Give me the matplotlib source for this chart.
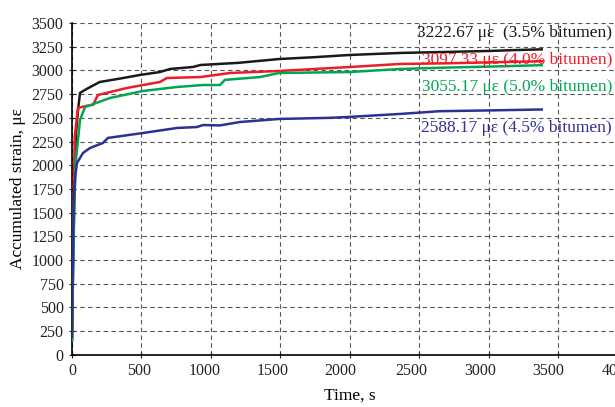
import matplotlib
matplotlib.use("Agg")
import matplotlib.pyplot as plt
from matplotlib.transforms import ScaledTranslation

# time (s) / accumulated strain (microstrain)
t_35 = [0, 8, 18, 30, 45, 58, 100, 200, 350, 489, 633, 705, 870, 924, 1200, 1490, 1750, 2000, 2360, 2700, 3000, 3200, 3380]
s_35 = [150, 900, 1800, 2350, 2600, 2762, 2800, 2878, 2915, 2952, 2983, 3015, 3036, 3057, 3080, 3120, 3140, 3163, 3184, 3195, 3205, 3215, 3222]

t_40 = [0, 8, 20, 43, 100, 151, 187, 396, 633, 683, 924, 1137, 1490, 2000, 2360, 2700, 3000, 3380]
s_40 = [150, 1200, 2300, 2604, 2625, 2636, 2741, 2815, 2878, 2920, 2930, 2973, 2994, 3036, 3068, 3075, 3085, 3097]

t_50 = [0, 10, 25, 58, 94, 273, 511, 755, 942, 1065, 1100, 1353, 1490, 2000, 2360, 2700, 3000, 3380]
s_50 = [150, 1100, 2000, 2477, 2614, 2709, 2783, 2825, 2846, 2846, 2900, 2930, 2973, 2983, 3015, 3030, 3040, 3055]

t_45 = [0, 5, 12, 25, 36, 80, 130, 223, 259, 511, 755, 899, 942, 1065, 1209, 1490, 1856, 2000, 2360, 2648, 3000, 3380]
s_45 = [190, 900, 1600, 1900, 2024, 2130, 2182, 2235, 2288, 2340, 2393, 2403, 2424, 2420, 2456, 2488, 2500, 2510, 2541, 2570, 2578, 2588]

labels = ["3222.67 \u03bc\u03b5  (3.5% bitumen)", "3097.33 \u03bc\u03b5 (4.0% bitumen)",
          "3055.17 \u03bc\u03b5 (5.0% bitumen)", "2588.17 \u03bc\u03b5 (4.5% bitumen)"]
colors = ["#1a1a1a", "#ee1c25", "#00a651", "#2e3192"]

plt.rcParams['font.family'] = ['Liberation Serif', 'DejaVu Serif']

fig = plt.figure(figsize=(6.15, 4.07), dpi=100)
ax = fig.add_axes([0.117, 0.128, 0.904, 0.8155])

for t, s, c in zip([t_35, t_40, t_50, t_45], [s_35, s_40, s_50, s_45], colors):
    ax.plot(t, s, color=c, linewidth=1.8, zorder=3)

ax.set_xlim(0, 4000)
ax.set_ylim(0, 3500)
ax.set_xticks(range(0, 4001, 500))
ax.set_yticks(range(0, 3501, 250))
ax.grid(True, color="#555555", linestyle=(0, (4, 3)), linewidth=0.8)
ax.spines['top'].set_visible(False)
ax.spines['right'].set_visible(False)
ax.spines['left'].set_linewidth(1.2)
ax.spines['bottom'].set_linewidth(1.2)
ax.tick_params(direction='inout', length=5, labelsize=11.5, colors='#222222')
ax.set_xlabel("Time, s", fontsize=12.5, labelpad=6)
ax.set_ylabel("Accumulated strain, \u03bc\u03b5", fontsize=12.5)

# the source's x tick labels sit a little left of their ticks
shifts = [0, -2, -6, -8, -10, -8, -9, -10, -10]
fig.canvas.draw()
for lab, dx in zip(ax.get_xticklabels(), shifts):
    lab.set_transform(lab.get_transform() + ScaledTranslation(dx / 100, 0, fig.dpi_scale_trans))

ys = [0.919, 0.853, 0.786, 0.686]
for lab, c, y in zip(labels, colors, ys):
    fig.text(0.995, y, lab, color=c, fontsize=12.5, ha='right', va='center', zorder=1)

fig.savefig("out.png", dpi=100)
